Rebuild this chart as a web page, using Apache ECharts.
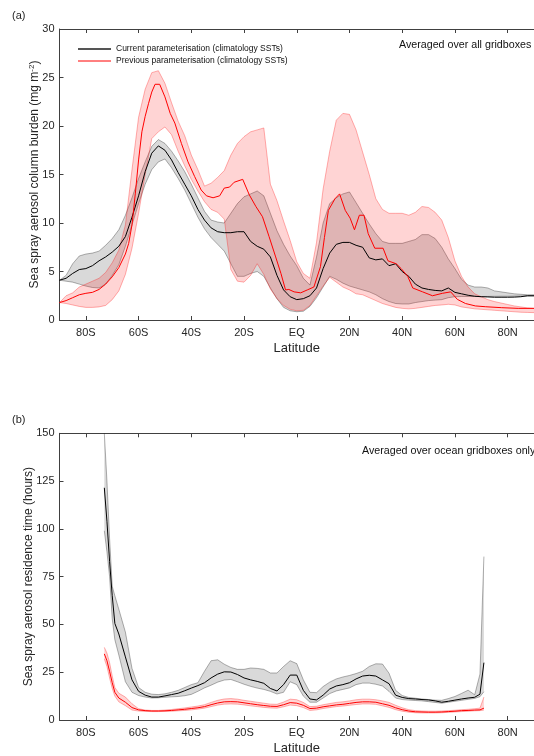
<!DOCTYPE html>
<html>
<head>
<meta charset="utf-8">
<script src="https://cdn.jsdelivr.net/npm/echarts@6/dist/echarts.min.js"></script>
<style>
  html, body { margin: 0; padding: 0; background: #fff; }
  #chart { width: 534px; height: 756px; }
</style>
</head>
<body>
<div id="chart"></div>
<script>
// Latitude ticks shared by both panels
const latTicks = [-80, -60, -40, -20, 0, 20, 40, 60, 80];
const latTickLabels = ['80S', '60S', '40S', '20S', 'EQ', '20N', '40N', '60N', '80N'];

// ---- Panel (a): column burden, all gridboxes (mg m-2) ----
const latA = [-90, -87.5, -85, -82.5, -80, -77.5, -75, -72.5, -70, -67.5,
  -65, -62.5, -60, -57.5, -55, -52.5, -50, -47.5, -45, -42.5,
  -40, -37.5, -35, -32.5, -30, -27.5, -25, -22.5, -20, -17.5,
  -15, -12.5, -10, -7.5, -5, -2.5, 0, 2.5, 5, 7.5,
  10, 12.5, 15, 17.5, 20, 22.5, 25, 27.5, 30, 32.5,
  35, 37.5, 40, 42.5, 45, 47.5, 50, 52.5, 55, 57.5,
  60, 62.5, 65, 67.5, 70, 72.5, 75, 77.5, 80, 82.5,
  85, 87.5, 90];
const curMeanA = [4.1, 4.3, 4.8, 5.2, 5.3, 5.6, 6.1, 6.5, 7.0, 7.6,
  8.6, 10.6, 12.8, 15.3, 17.2, 17.95, 17.5, 16.5, 15.2, 14.0,
  12.8, 11.4, 10.3, 9.5, 9.1, 9.0, 9.0, 9.1, 9.1, 8.1,
  7.6, 7.3, 6.5, 4.6, 3.1, 2.4, 2.1, 2.2, 2.5, 3.3,
  5.3, 6.9, 7.8, 8.0, 8.0, 7.7, 7.5, 6.4, 6.2, 6.3,
  5.6, 5.8, 5.0, 4.5, 3.7, 3.3, 3.15, 3.05, 3.0, 3.3,
  2.85, 2.7, 2.55, 2.45, 2.4, 2.38, 2.35, 2.35, 2.35, 2.36,
  2.4, 2.5, 2.5];
const curHiA = [4.1, 4.6, 5.8, 6.6, 6.8, 6.9, 7.1, 7.7, 8.4, 9.3,
  10.8, 12.6, 14.6, 16.3, 17.9, 18.6, 18.2, 17.4, 16.4, 15.3,
  14.0, 12.6, 11.2, 10.3, 10.1, 10.0, 11.0, 12.0, 12.7, 13.0,
  13.3, 12.8, 11.0, 9.2, 7.8, 6.6, 5.6, 4.3, 3.6, 6.5,
  10.0, 12.0, 12.6, 13.0, 13.2, 12.1, 11.0, 9.9, 8.9, 8.1,
  7.9, 7.9, 7.9, 8.1, 8.3, 8.8, 8.8, 8.4, 7.5, 6.3,
  5.3, 4.2, 3.6, 3.4, 3.4, 3.3, 3.0, 2.9, 2.8, 2.7,
  2.65, 2.6, 2.6];
const curLoA = [4.1, 4.0, 3.9, 3.7, 3.5, 3.35, 3.3, 3.7, 4.6, 5.7,
  7.6, 9.8, 12.0, 14.0, 15.5, 16.3, 16.6, 15.7, 14.6, 13.4,
  12.0, 10.6, 9.4, 8.5, 7.8, 7.1, 5.8, 4.5, 4.5, 4.8,
  5.0, 4.5, 3.3, 2.2, 1.3, 0.95, 0.85, 0.9, 1.4, 2.3,
  3.4, 4.5, 4.2, 3.8, 3.5, 3.3, 3.1, 2.9, 2.6, 2.2,
  1.9, 1.7, 1.65, 1.65, 1.8, 1.9, 2.0, 2.05, 2.1, 2.3,
  2.4, 2.42, 2.42, 2.42, 2.42, 2.43, 2.44, 2.45, 2.45, 2.46,
  2.47, 2.47, 2.47];
const prevHiA = [1.8, 2.5, 2.8, 3.4, 3.7, 4.0, 4.3, 4.9, 5.9, 7.2,
  9.8, 15.5, 20.9, 23.8, 25.5, 25.7, 24.4, 22.4, 20.5, 19.0,
  17.0, 15.5, 13.8, 14.1, 14.7, 15.4, 17.0, 18.2, 18.9, 19.4,
  19.6, 19.8, 14.0, 12.3, 10.2, 8.2, 6.0, 4.8, 4.3, 8.0,
  13.5, 17.4, 20.6, 21.3, 21.2, 19.6, 17.3, 15.0, 12.5, 11.4,
  11.0, 11.0, 11.0, 10.8, 11.1, 11.7, 11.6, 11.1, 10.3, 8.5,
  6.1, 4.5, 3.4, 2.7, 2.4, 2.1, 1.9, 1.75, 1.6, 1.45,
  1.35, 1.25, 1.2];
const prevLoA = [1.8, 1.7, 1.55, 1.4, 1.3, 1.3, 1.35, 1.5, 2.1, 3.0,
  4.7, 7.4, 11.0, 15.0, 18.7, 19.4, 19.9, 19.1, 17.4, 15.9,
  14.5, 13.3, 12.2, 11.4, 11.1, 10.4, 5.2, 4.0, 3.9, 4.6,
  5.8, 4.7, 3.2, 2.2, 1.5, 1.1, 0.95, 1.0, 1.5, 2.5,
  3.5, 4.4, 3.9, 3.4, 3.1, 2.7, 2.6, 2.3, 2.0, 1.7,
  1.5, 1.3, 1.2, 1.15, 1.2, 1.3, 1.4, 1.5, 1.55, 1.62,
  1.55, 1.35, 1.25, 1.15, 1.1, 1.05, 1.0, 0.95, 0.9, 0.85,
  0.8, 0.78, 0.76];
// Previous scheme mean, on its own finer latitude points
const prevLatA = [-90, -87.5, -85, -82.5, -80, -77.5, -75, -72.5, -70, -67.5,
  -65, -63.75, -62.5, -61.25, -60, -58.75, -57.5, -56.25, -55, -53.75,
  -52, -50, -48, -46.25, -43.75, -41.25, -38.75, -36.25, -34.25, -31.75,
  -29.25, -27.5, -25.5, -23.75, -20.5, -18, -15.5, -13, -10.5, -8,
  -6, -4.25, -3, -1, 1.5, 4, 6.5, 9, 10.5, 12,
  14.5, 16.25, 18.4, 20.25, 21.9, 23.75, 25.5, 27.1, 29.6, 32.75,
  34.6, 37.75, 39.6, 42.1, 44, 47.75, 51.5, 55.25, 58.4, 60.9,
  64, 67.75, 71.5, 77.75, 84, 90];
const prevMeanA = [1.8, 2.0, 2.3, 2.6, 2.75, 2.85, 3.15, 3.7, 4.45, 5.4,
  6.8, 7.9, 9.8, 13.0, 16.5, 19.4, 21.0, 22.3, 23.5, 24.3,
  24.3, 23.0, 21.3, 20.3, 18.2, 16.3, 14.8, 13.4, 12.8, 12.6,
  12.8, 13.6, 13.7, 14.2, 14.5, 12.9, 11.7, 10.65, 8.6, 6.5,
  4.8, 3.1, 3.15, 2.9, 2.8, 3.1, 3.4, 5.5, 8.5, 11.3,
  12.5, 13.0, 11.3, 10.5, 9.3, 10.8, 10.8, 8.9, 7.4, 7.4,
  6.1, 5.8, 5.3, 4.5, 3.3, 2.9, 2.5, 2.75, 2.9, 2.13,
  1.7, 1.45, 1.37, 1.27, 1.2, 1.2];

// ---- Panel (b): residence time, ocean gridboxes (hours) ----
const latB = [-73, -72, -71, -70, -69,
  -67.5, -65, -62.5, -60, -57.5, -55, -52.5, -50, -47.5, -45,
  -42.5, -40, -37.5, -35, -32.5, -30, -27.5, -25, -22.5, -20,
  -17.5, -15, -12.5, -10, -7.5, -5, -2.5, 0, 2.5, 5,
  7.5, 10, 12.5, 15, 17.5, 20, 22.5, 25, 27.5, 30,
  32.5, 35, 37.5, 40, 42.5, 45, 47.5, 50, 52.5, 55,
  57.5, 60, 62.5, 65, 67.5,
  69.5, 71];
const curMeanB = [121.5, 104, 83, 65, 50.5,
  45, 33, 21, 15, 13, 12, 12.0, 12.6, 13.3, 14.0,
  15.3, 16.7, 18.0, 19.5, 22.0, 24.0, 25.2, 25.1, 23.8, 22.0,
  21.0, 20.2, 19.2, 16.5, 15.2, 18.5, 23.5, 23.5, 15.5, 11.0,
  10.5, 13.0, 16.2, 17.8, 18.5, 19.5, 21.5, 23.0, 23.4, 23.0,
  21.0, 19.0, 13.0, 11.8, 11.2, 11.0, 10.7, 10.5, 10.0, 9.3,
  9.8, 10.4, 11.0, 11.5, 11.9,
  13.5, 30];
const curHiB = [150, 125, 95, 70, 65,
  58, 46, 27, 17, 14.5, 13.5, 13.3, 13.7, 14.5, 15.5,
  17.0, 18.5, 19.5, 25.5, 31, 31.5, 29.2, 27.5, 26.5, 26.5,
  27.2, 27.0, 26.5, 24.6, 24.6, 28.0, 31.0, 29.5, 21.0, 14.5,
  14.3, 17.5, 19.8, 21.5, 22.5, 23.3, 24.3, 25.5, 28.0, 29.4,
  29.3, 24.5, 15.5, 12.8, 11.8, 11.4, 11.0, 10.7, 10.4, 10.3,
  11.2, 12.3, 13.9, 15.6, 13.2,
  24, 85.5];
const curLoB = [99, 88, 75, 53, 42,
  34, 20, 14.5, 12.8, 12.0, 11.5, 11.6, 11.9, 12.1, 12.3,
  12.7, 13.4, 15.0, 16.8, 18.2, 19.8, 20.9, 21.2, 20.0, 18.7,
  17.6, 16.7, 16.0, 15.0, 13.6, 14.5, 20.0, 18.5, 12.5, 9.3,
  9.3, 11.5, 13.8, 15.2, 16.0, 16.8, 18.5, 19.3, 19.3, 18.7,
  17.8, 15.0, 11.5, 10.7, 10.4, 10.2, 10.0, 9.6, 9.2, 8.8,
  9.3, 9.8, 10.3, 10.8, 11.3,
  12.2, 14.8];
const prevMeanB = [34.6, 31, 25.5, 19.5, 14.5,
  11.5, 9.3, 6.5, 5.3, 4.9, 4.7, 4.7, 4.8, 5.0, 5.3,
  5.6, 6.0, 6.4, 7.0, 8.0, 8.9, 9.5, 9.6, 9.5, 9.0,
  8.5, 8.0, 7.6, 7.2, 7.1, 8.0, 9.1, 8.8, 7.7, 6.0,
  6.2, 6.9, 7.4, 7.9, 8.2, 8.7, 9.2, 9.5, 9.5, 9.3,
  8.5, 7.7, 6.4, 5.4, 4.7, 4.3, 4.2, 4.1, 4.1, 4.2,
  4.4, 4.6, 4.9, 5.0, 5.2,
  5.3, 6.2];
const prevHiB = [38, 35, 30, 23, 17,
  14, 12, 8.5, 5.9, 5.2, 5.0, 5.0, 5.2, 5.5, 5.9,
  6.3, 6.8, 7.3, 8.0, 9.2, 10.3, 11.0, 11.2, 10.9, 10.3,
  9.8, 9.3, 8.8, 8.3, 8.2, 9.4, 10.9, 10.6, 9.2, 7.0,
  7.2, 8.0, 8.6, 9.2, 9.5, 10.0, 10.6, 10.9, 10.9, 10.6,
  10.0, 9.2, 7.7, 6.4, 5.4, 4.9, 4.7, 4.6, 4.6, 4.7,
  4.9, 5.1, 5.4, 5.6, 5.9,
  6.2, 12.0];
const prevLoB = [32, 28, 22, 16.5, 12.5,
  9.5, 7.5, 5.2, 4.7, 4.5, 4.4, 4.4, 4.5, 4.6, 4.8,
  5.0, 5.3, 5.7, 6.2, 7.0, 7.8, 8.3, 8.4, 8.3, 7.9,
  7.4, 7.0, 6.6, 6.3, 6.2, 6.9, 7.8, 7.5, 6.5, 5.0,
  5.3, 6.0, 6.5, 7.0, 7.3, 7.7, 8.1, 8.4, 8.4, 8.2,
  7.4, 6.6, 5.4, 4.6, 4.1, 3.8, 3.7, 3.7, 3.7, 3.8,
  4.0, 4.2, 4.4, 4.6, 4.8,
  4.9, 5.2];

const yTicksA = [0, 5, 10, 15, 20, 25, 30];
const yTicksB = [0, 25, 50, 75, 100, 125, 150];

const NAME_CUR = 'Current parameterisation (climatology SSTs)';
const NAME_PREV = 'Previous parameterisation (climatology SSTs)';

const FONT = "'Liberation Sans', Arial, Helvetica, sans-serif";
const AXIS_COLOR = '#404040';
const TEXT_COLOR = '#262626';

const GRAY_FILL = 'rgba(0,0,0,0.15)';
const GRAY_EDGE = 'rgba(0,0,0,0.38)';
const PINK_FILL = 'rgba(255,0,0,0.17)';
const PINK_EDGE = 'rgba(255,0,0,0.38)';

function pairs(xs, ys) {
  return xs.map((x, i) => [x, ys[i]]);
}

// Shaded min-max envelope drawn as one polygon with outlined edges
function bandSeries(gridIdx, lats, lo, hi, fill, edge) {
  return {
    type: 'custom',
    xAxisIndex: gridIdx * 2,
    yAxisIndex: gridIdx,
    clip: true,
    silent: true,
    z: 2,
    data: lats.map((x, i) => [x, lo[i], hi[i]]),
    encode: { x: 0, y: [1, 2] },
    renderItem: function (params, api) {
      if (params.dataIndex !== 0) return null;
      const upper = lats.map((x, i) => api.coord([x, hi[i]]));
      const lower = lats.map((x, i) => api.coord([x, lo[i]]));
      const poly = upper.concat(lower.slice().reverse());
      return {
        type: 'group',
        children: [
          { type: 'polygon', shape: { points: poly }, style: { fill: fill, stroke: null } },
          { type: 'polyline', shape: { points: upper }, style: { fill: null, stroke: edge, lineWidth: 0.8 } },
          { type: 'polyline', shape: { points: lower }, style: { fill: null, stroke: edge, lineWidth: 0.8 } }
        ]
      };
    }
  };
}

function meanSeries(name, gridIdx, lats, vals, color) {
  return {
    name: name,
    type: 'line',
    xAxisIndex: gridIdx * 2,
    yAxisIndex: gridIdx,
    data: pairs(lats, vals),
    symbol: 'none',
    showSymbol: false,
    smooth: false,
    silent: true,
    z: 5,
    lineStyle: { color: color, width: 1 },
    itemStyle: { color: color }
  };
}

function latAxisBottom(gridIdx) {
  return {
    type: 'value', gridIndex: gridIdx, position: 'bottom',
    min: -90, max: 90,
    name: 'Latitude', nameLocation: 'middle', nameGap: 22, nameMoveOverlap: false,
    nameTextStyle: { fontSize: 13, color: TEXT_COLOR, fontFamily: FONT },
    axisLine: { show: true, onZero: false, lineStyle: { color: AXIS_COLOR, width: 1 } },
    axisTick: { show: true, inside: true, length: 4, customValues: latTicks, lineStyle: { color: AXIS_COLOR } },
    axisLabel: {
      show: true, customValues: latTicks, margin: 7, fontSize: 11, color: TEXT_COLOR, fontFamily: FONT,
      formatter: v => latTickLabels[latTicks.indexOf(v)]
    },
    splitLine: { show: false }
  };
}

function latAxisTop(gridIdx) {
  return {
    type: 'value', gridIndex: gridIdx, position: 'top',
    min: -90, max: 90,
    axisLine: { show: true, onZero: false, lineStyle: { color: AXIS_COLOR, width: 1 } },
    axisTick: { show: true, inside: true, length: 4, customValues: latTicks, lineStyle: { color: AXIS_COLOR } },
    axisLabel: { show: false },
    splitLine: { show: false }
  };
}

function valueAxis(gridIdx, max, ticks, name, rich, gap) {
  return {
    type: 'value', gridIndex: gridIdx, position: 'left',
    min: 0, max: max,
    name: name, nameLocation: 'middle', nameGap: gap, nameRotate: 90, nameMoveOverlap: false,
    nameTextStyle: { fontSize: 12, color: TEXT_COLOR, fontFamily: FONT, rich: rich },
    axisLine: { show: true, onZero: false, lineStyle: { color: AXIS_COLOR, width: 1 } },
    axisTick: { show: true, inside: true, length: 4, customValues: ticks, lineStyle: { color: AXIS_COLOR } },
    axisLabel: { show: true, customValues: ticks, margin: 5, fontSize: 11, color: TEXT_COLOR, fontFamily: FONT },
    splitLine: { show: false }
  };
}

const chart = echarts.init(document.getElementById('chart'), null, { renderer: 'canvas' });

chart.setOption({
  backgroundColor: '#ffffff',
  animation: false,
  textStyle: { fontFamily: FONT },
  grid: [
    { left: 59.5, right: -5.5, top: 29, bottom: 436, containLabel: false },
    { left: 59.5, right: -5.5, top: 433.3, bottom: 32.3, containLabel: false }
  ],
  xAxis: [latAxisBottom(0), latAxisTop(0), latAxisBottom(1), latAxisTop(1)],
  yAxis: [
    valueAxis(0, 30, yTicksA, 'Sea spray aerosol column burden (mg m{sup|-2})',
      { sup: { fontSize: 8, verticalAlign: 'bottom', padding: [0, 0, 6, 0], color: TEXT_COLOR, fontFamily: FONT } }, 18),
    valueAxis(1, 150, yTicksB, 'Sea spray aerosol residence time (hours)', {}, 25)
  ],
  legend: {
    left: 77, top: 44.5, orient: 'vertical', padding: 0,
    itemWidth: 33, itemHeight: 9, itemGap: 3,
    selectedMode: false,
    textStyle: { fontSize: 8.5, color: '#111', fontFamily: FONT },
    data: [
      { name: NAME_CUR, itemStyle: { opacity: 0 }, lineStyle: { color: '#555', width: 2 } },
      { name: NAME_PREV, itemStyle: { opacity: 0 }, lineStyle: { color: '#ff0000', width: 1 } }
    ]
  },
  graphic: [
    { type: 'text', left: 12, top: 10, style: { text: '(a)', fontSize: 11, fill: TEXT_COLOR, fontFamily: FONT } },
    { type: 'text', left: 12, top: 414, style: { text: '(b)', fontSize: 11, fill: TEXT_COLOR, fontFamily: FONT } },
    { type: 'text', left: 399, top: 40, style: { text: 'Averaged over all gridboxes', fontSize: 10.7, fill: '#111', fontFamily: FONT } },
    { type: 'text', left: 362, top: 446, style: { text: 'Averaged over ocean gridboxes only', fontSize: 10.7, fill: '#111', fontFamily: FONT } }
  ],
  series: [
    bandSeries(0, latA, curLoA, curHiA, GRAY_FILL, GRAY_EDGE),
    bandSeries(0, latA, prevLoA, prevHiA, PINK_FILL, PINK_EDGE),
    meanSeries(NAME_CUR, 0, latA, curMeanA, '#000000'),
    meanSeries(NAME_PREV, 0, prevLatA, prevMeanA, '#ff0000'),
    bandSeries(1, latB, curLoB, curHiB, GRAY_FILL, GRAY_EDGE),
    bandSeries(1, latB, prevLoB, prevHiB, PINK_FILL, PINK_EDGE),
    meanSeries('Current parameterisation, ocean', 1, latB, curMeanB, '#000000'),
    meanSeries('Previous parameterisation, ocean', 1, latB, prevMeanB, '#ff0000')
  ]
});
</script>
</body>
</html>
